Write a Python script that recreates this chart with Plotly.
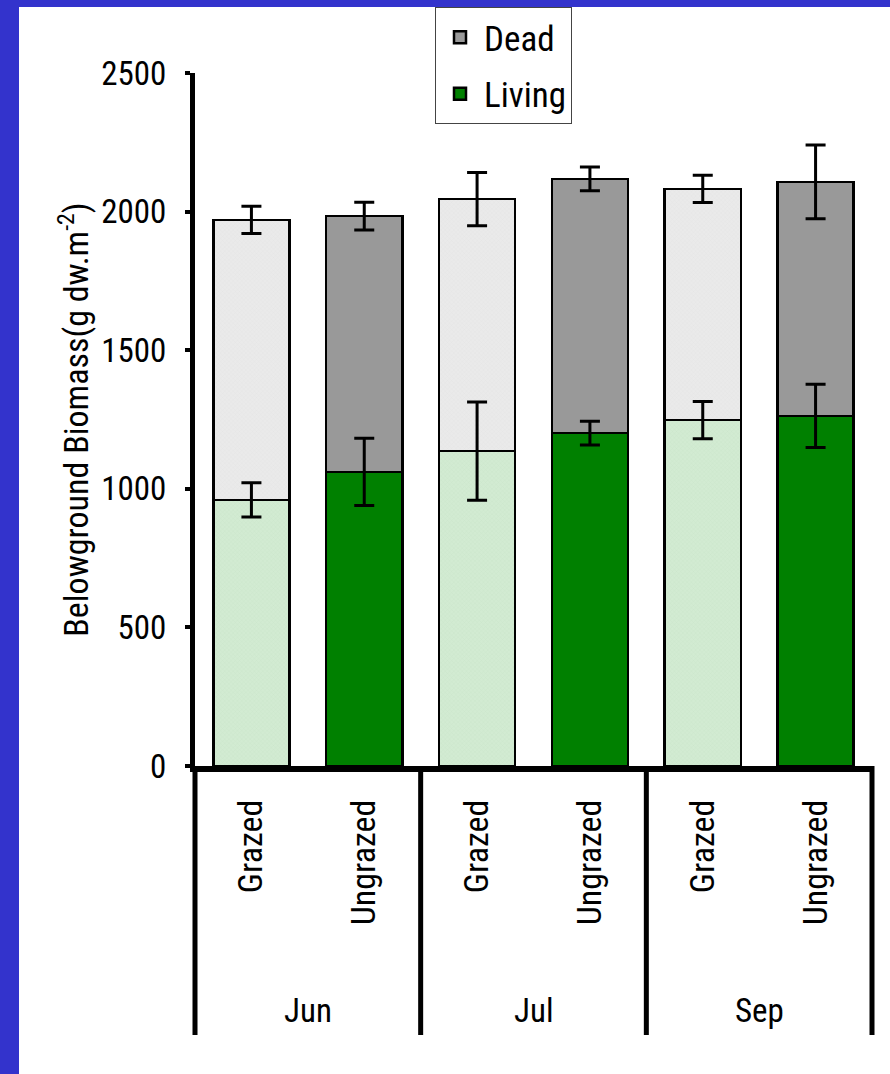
import plotly.graph_objects as go

# Belowground biomass by month and grazing treatment (g dw m^-2)
months = ["Jun", "Jul", "Sep"]
treatments = ["Grazed", "Ungrazed"]
tick_labels = ["Grazed", "Ungrazed", "Grazed", "Ungrazed", "Grazed", "Ungrazed"]

living_grazed = [960, 1136, 1248]
living_grazed_err = [62, 177, 67]
living_ungrazed = [1061, 1201, 1263]
living_ungrazed_err = [121, 43, 114]

dead_grazed = [1010, 909, 834]
dead_grazed_err = [49, 96, 49]
dead_ungrazed = [923, 917, 844]
dead_ungrazed_err = [50, 43, 133]

FONT = "Liberation Sans Narrow, Arial Narrow, Roboto Condensed, Liberation Sans, sans-serif"
BLUE = "#3333CC"

grazed_x = [0, 2, 4]
ungrazed_x = [1, 3, 5]
X_RANGE = [-0.5, 5.5]

err_style = dict(type="data", color="black", thickness=3, width=10)
outline = dict(color="black", width=2.5)

fig = go.Figure()

fig.add_trace(go.Bar(
    x=grazed_x, y=living_grazed, name="Living", showlegend=False,
    legendgroup="living",
    marker=dict(color="#d2ebd2", line=outline,
                pattern=dict(shape="x", size=3, solidity=0.15,
                             fgcolor="#b4d8b4", fillmode="overlay")),
))
fig.add_trace(go.Bar(
    x=ungrazed_x, y=living_ungrazed, name="Living", legendrank=2,
    legendgroup="living",
    marker=dict(color="#008000", line=outline),
))
fig.add_trace(go.Bar(
    x=grazed_x, y=dead_grazed, name="Dead", showlegend=False,
    legendgroup="dead",
    marker=dict(color="#eaeaea", line=outline,
                pattern=dict(shape="x", size=3, solidity=0.15,
                             fgcolor="#d6d6d6", fillmode="overlay")),
))
fig.add_trace(go.Bar(
    x=ungrazed_x, y=dead_ungrazed, name="Dead", legendrank=1,
    legendgroup="dead",
    marker=dict(color="#999999", line=outline),
))

# error bars drawn above all bar segments: at the living tops and the stack tops
def add_errors(xs, tops, errs):
    fig.add_trace(go.Scatter(
        x=xs, y=tops, mode="markers", showlegend=False, hoverinfo="skip",
        marker=dict(size=1, opacity=0),
        error_y=dict(array=errs, **err_style),
    ))

add_errors(grazed_x, living_grazed, living_grazed_err)
add_errors(ungrazed_x, living_ungrazed, living_ungrazed_err)
add_errors(grazed_x, [a + b for a, b in zip(living_grazed, dead_grazed)], dead_grazed_err)
add_errors(ungrazed_x, [a + b for a, b in zip(living_ungrazed, dead_ungrazed)], dead_ungrazed_err)

# vertical dividers separating the month groups below the axis
def to_paper(xv):
    return (xv - X_RANGE[0]) / (X_RANGE[1] - X_RANGE[0])

shapes = []
for xb in [-0.5, 1.5, 3.5, 5.5]:
    shapes.append(dict(type="line", xref="paper", yref="paper",
                       x0=to_paper(xb), x1=to_paper(xb), y0=0, y1=-0.388,
                       line=dict(color="black", width=5)))

# blue frame strips along the left and top edges
shapes.append(dict(type="rect", xref="paper", yref="paper",
                   x0=-0.30, x1=(19 - 195) / 677, y0=-0.46, y1=1.12,
                   fillcolor=BLUE, line=dict(width=0), layer="below"))
shapes.append(dict(type="rect", xref="paper", yref="paper",
                   x0=-0.30, x1=1.05, y0=(766 - 7) / 693, y1=1.12,
                   fillcolor=BLUE, line=dict(width=0), layer="below"))

annotations = []
for i, m in enumerate(months):
    annotations.append(dict(text=m, xref="x", yref="paper",
                            x=2 * i + 0.5, y=-0.3535, showarrow=False,
                            xanchor="center", yanchor="middle",
                            font=dict(family=FONT, size=33, color="black")))

fig.update_layout(
    width=890, height=1074,
    margin=dict(l=195, r=18, t=73, b=308, autoexpand=False),
    paper_bgcolor="white", plot_bgcolor="white",
    barmode="stack", bargap=0.325,
    font=dict(family=FONT, size=32, color="black"),
    shapes=shapes, annotations=annotations,
    legend=dict(x=(435 - 195) / 677, y=(766 - 7) / 693,
                xanchor="left", yanchor="top",
                bgcolor="white", bordercolor="#444444", borderwidth=1,
                traceorder="grouped", tracegroupgap=8, itemwidth=38,
                font=dict(family=FONT, size=35, color="black")),
    showlegend=True,
)

fig.update_xaxes(
    range=X_RANGE, tickmode="array",
    tickvals=list(range(6)), ticktext=tick_labels, tickangle=-90,
    showline=True, linecolor="black", linewidth=6,
    ticks="", showgrid=False, zeroline=False, ticklabelstandoff=14,
    tickfont=dict(family=FONT, size=34, color="black"),
)
fig.update_yaxes(
    range=[0, 2500], tickmode="array", tickvals=[0, 500, 1000, 1500, 2000, 2500],
    showline=True, linecolor="black", linewidth=5,
    ticks="outside", ticklen=5, tickwidth=4, tickcolor="black",
    showgrid=False, zeroline=False, ticklabelstandoff=12,
    tickfont=dict(family=FONT, size=33, color="black"),
    title=dict(text="Belowground Biomass(g dw.m<sup>-2</sup>)", standoff=4,
               font=dict(family=FONT, size=34, color="black")),
)

fig.write_html("out.html")
